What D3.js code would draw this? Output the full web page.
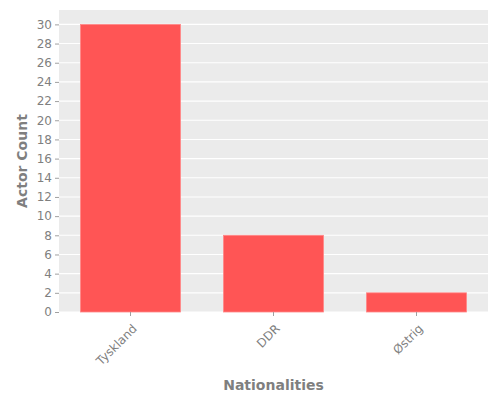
<!DOCTYPE html>
<html>
<head>
<meta charset="utf-8">
<script src="https://d3js.org/d3.v7.min.js"></script>
<style>
  body { margin: 0; background: #fff; }
  text { font-family: "DejaVu Sans", sans-serif; }
  .axis path { display: none; }
  .axis line { stroke: #a0a0a0; }
  .axis text { fill: #7f7f7f; font-size: 12px; }
</style>
</head>
<body>
<script>
var nationalities = ["Tyskland", "DDR", "Østrig"];
var actorCounts = [30, 8, 2];
var yTicks = d3.range(0, 31, 2);

var margin = {top: 10, right: 12, bottom: 88, left: 59};
var width = 500 - margin.left - margin.right;
var height = 400 - margin.top - margin.bottom;

var svg = d3.select("body").append("svg")
    .attr("width", 500)
    .attr("height", 400);

var g = svg.append("g")
    .attr("transform", "translate(" + margin.left + "," + margin.top + ")");

var x = d3.scaleBand()
    .domain(nationalities)
    .range([0, width])
    .paddingInner(0.3)
    .paddingOuter(0.15);

var y = d3.scaleLinear()
    .domain([0, 31.5])
    .range([height, 0]);

// panel background
g.append("rect")
    .attr("width", width)
    .attr("height", height)
    .attr("fill", "#ebebeb");

// gridlines
g.selectAll(".grid")
    .data(yTicks)
    .enter().append("line")
    .attr("class", "grid")
    .attr("x1", 0)
    .attr("x2", width)
    .attr("y1", function(d) { return y(d); })
    .attr("y2", function(d) { return y(d); })
    .attr("stroke", "#fff")
    .attr("stroke-width", 1.1);

// bars
g.selectAll(".bar")
    .data(nationalities)
    .enter().append("rect")
    .attr("class", "bar")
    .attr("x", function(d) { return x(d); })
    .attr("width", x.bandwidth())
    .attr("y", function(d, i) { return y(actorCounts[i]); })
    .attr("height", function(d, i) { return height - y(actorCounts[i]); })
    .attr("fill", "#ff5555")
    .attr("stroke", "#ff8888")
    .attr("stroke-width", 0.8);

// y axis
g.append("g")
    .attr("class", "axis")
    .call(d3.axisLeft(y).tickValues(yTicks).tickSize(4).tickPadding(3));

// x axis
var xAxis = g.append("g")
    .attr("class", "axis")
    .attr("transform", "translate(0," + height + ")")
    .call(d3.axisBottom(x).tickSize(4).tickPadding(3));

xAxis.selectAll("text")
    .style("text-anchor", "end")
    .attr("dx", "-0.6em")
    .attr("dy", "0.87em")
    .attr("transform", "rotate(-45)");

// axis titles
svg.append("text")
    .attr("x", margin.left + width / 2)
    .attr("y", 390)
    .attr("text-anchor", "middle")
    .attr("font-size", "14px")
    .attr("font-weight", "bold")
    .attr("fill", "#7f7f7f")
    .text("Nationalities");

svg.append("text")
    .attr("transform", "translate(27," + (margin.top + height / 2) + ") rotate(-90)")
    .attr("text-anchor", "middle")
    .attr("font-size", "14px")
    .attr("font-weight", "bold")
    .attr("fill", "#7f7f7f")
    .text("Actor Count");
</script>
</body>
</html>
